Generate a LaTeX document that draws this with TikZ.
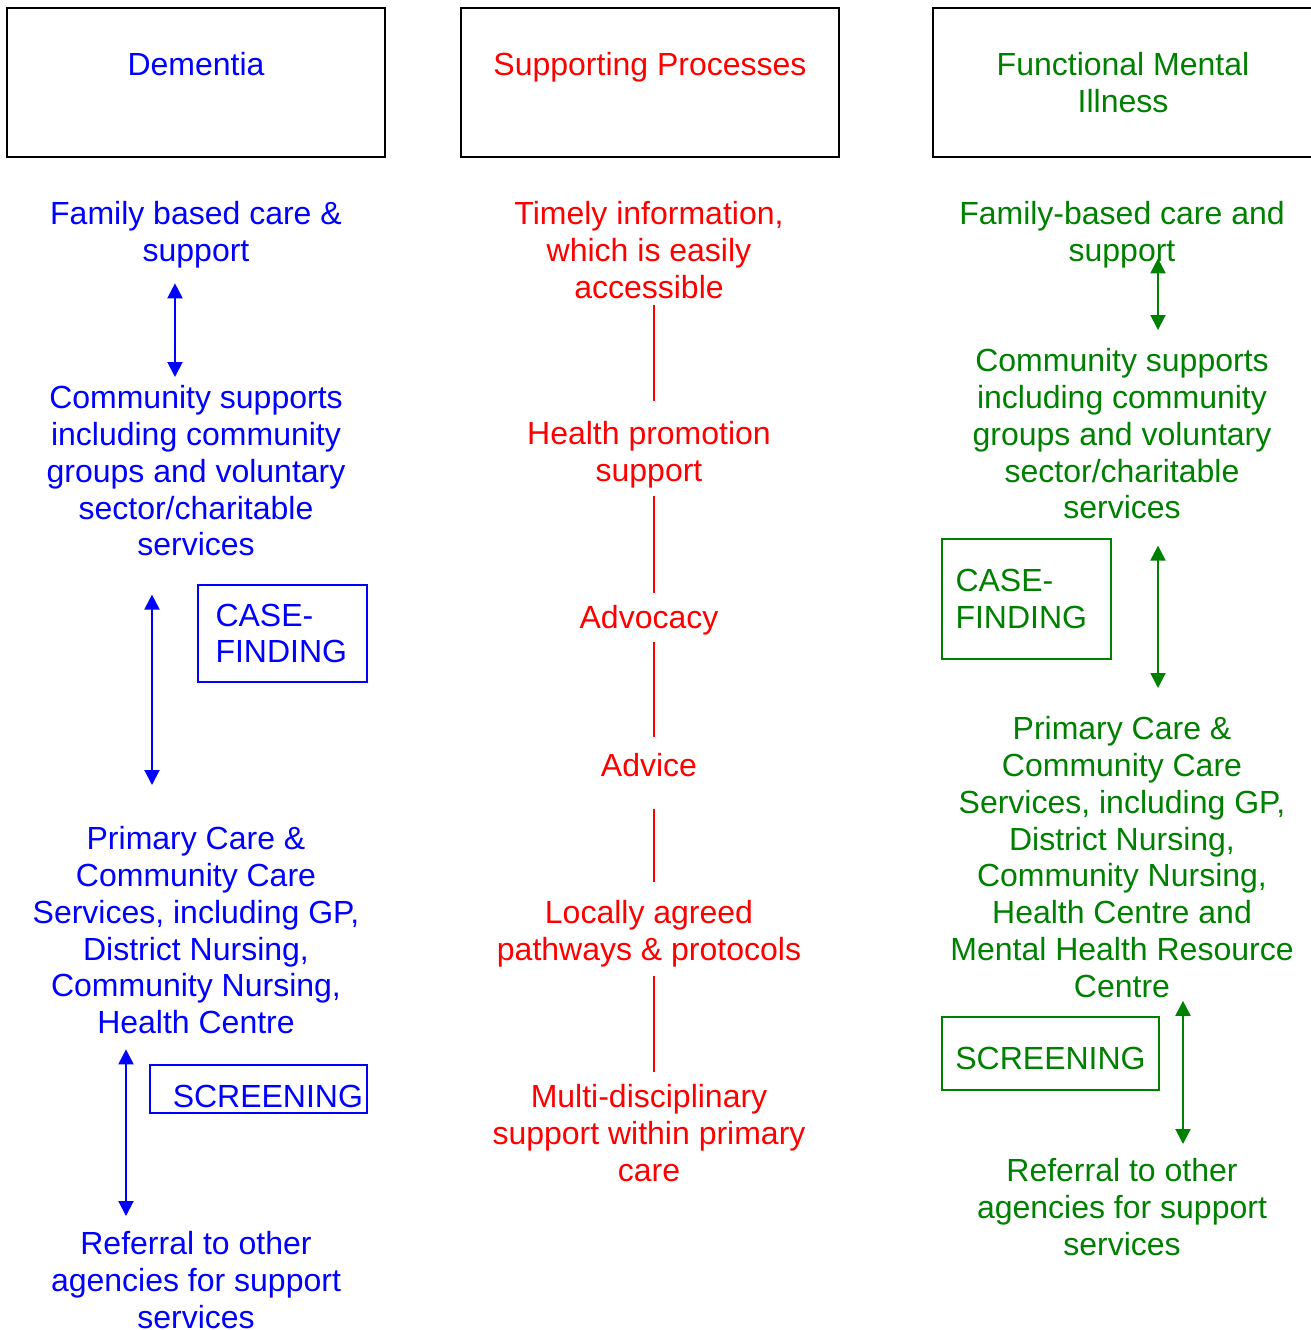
\documentclass[tikz,border=0pt]{standalone}
\usepackage{fontspec}
\setmainfont{Liberation Sans}
\usetikzlibrary{arrows.meta}
\definecolor{dblue}{RGB}{0,0,255}
\definecolor{dred}{RGB}{255,0,0}
\definecolor{dgreen}{RGB}{0,128,0}
% line strut: every text line gets the same height and depth
\newcommand\lstr{\vrule height 23pt depth 7pt width 0pt}
\newcommand\nl{\\\lstr}

\begin{document}
\begin{tikzpicture}[x=1pt,y=-1pt,
  every node/.style={font=\fontsize{32}{36.75}\selectfont, inner sep=0pt},
  head/.style={draw=black, line width=2pt, minimum width=378pt, minimum height=149pt},
  item/.style={anchor=north, align=center},
  tag/.style={draw=#1, text=#1, line width=2pt},
  link/.style={dred, line width=2pt},
  twoway/.style={line width=2pt, {Triangle[width=15pt,length=15pt]}-{Triangle[width=15pt,length=15pt]}},
]
\useasboundingbox (0,0) rectangle (1310,1330);

% column headings
\node[head, text=dblue, text height=23pt, text depth=37pt] (dem) at (196,82.5) {Dementia};
\node[head, text=dred, text height=23pt, text depth=37pt] (sup) at (650,82.5) {Supporting Processes};
\node[head, minimum width=380pt, text=dgreen, align=center] (fmi) at (1123,82.5) {Functional Mental\\Illness};

% dementia column
\begin{scope}[every node/.append style={text=dblue}]
\node[item] (L1) at (196,201.5) {\lstr Family based care \&\nl support};
\node[item] (L2) at (196,385.5) {\lstr Community supports\nl including community\nl groups and voluntary\nl sector/charitable\nl services};
\node[item] (L3) at (196,826.5) {\lstr Primary Care \&\nl Community Care\nl Services, including GP,\nl District Nursing,\nl Community Nursing,\nl Health Centre};
\node[item] (L4) at (196,1231.5) {\lstr Referral to other\nl agencies for support\nl services};
\end{scope}
\node[tag=dblue, text width=134pt, inner xsep=17.5pt, inner ysep=0pt, minimum height=97pt, align=left] (lcf) at (282.5,633.5) {CASE-\\FINDING};
\node[tag=dblue, text width=209pt, inner xsep=4pt, inner ysep=0pt, minimum height=48pt, align=right, text height=36pt, text depth=0pt] (lsc) at (258.5,1089) {SCREENING};

\draw[twoway, dblue, shorten <=14.5pt, shorten >=8.5pt] ([xshift=-21pt]L1.south) -- ([xshift=-21pt]L2.north);
\draw[twoway, dblue, shorten <=31.5pt, shorten >=41.5pt] ([xshift=-44pt]L2.south) -- ([xshift=-44pt]L3.north);
\draw[twoway, dblue, shorten <=8.5pt, shorten >=15.5pt] ([xshift=-70pt]L3.south) -- ([xshift=-70pt]L4.north);

% supporting processes column
\begin{scope}[every node/.append style={text=dred}]
\node[item] (M1) at (649,201.5) {\lstr Timely information,\nl which is easily\nl accessible};
\node[item] (M2) at (649,421.5) {\lstr Health promotion\nl support};
\node[item] (M3) at (649,605.5) {\lstr Advocacy};
\node[item] (M4) at (649,753.5) {\lstr Advice};
\node[item] (M5) at (649,900.5) {\lstr Locally agreed\nl pathways \& protocols};
\node[item] (M6) at (649,1084.5) {\lstr Multi-disciplinary\nl support within primary\nl care};
\end{scope}

\draw[link, shorten <=-0.5pt, shorten >=20.5pt] ([xshift=5pt]M1.south) -- ([xshift=5pt]M2.north);
\draw[link, shorten <=7.5pt, shorten >=12.5pt] ([xshift=5pt]M2.south) -- ([xshift=5pt]M3.north);
\draw[link, shorten <=5.5pt, shorten >=16.5pt] ([xshift=5pt]M3.south) -- ([xshift=5pt]M4.north);
\draw[link, shorten <=24.5pt, shorten >=18.5pt] ([xshift=5pt]M4.south) -- ([xshift=5pt]M5.north);
\draw[link, shorten <=8.5pt, shorten >=12.5pt] ([xshift=5pt]M5.south) -- ([xshift=5pt]M6.north);

% functional mental illness column
\begin{scope}[every node/.append style={text=dgreen}]
\node[item] (R1) at (1122,201.5) {\lstr Family-based care and\nl support};
\node[item] (R2) at (1122,348.5) {\lstr Community supports\nl including community\nl groups and voluntary\nl sector/charitable\nl services};
\node[item] (R3) at (1122,716.5) {\lstr Primary Care \&\nl Community Care\nl Services, including GP,\nl District Nursing,\nl Community Nursing,\nl Health Centre and\nl Mental Health Resource\nl Centre};
\node[item] (R4) at (1122,1158.5) {\lstr Referral to other\nl agencies for support\nl services};
\end{scope}
\node[tag=dgreen, text width=142pt, inner xsep=13.5pt, inner ysep=0pt, minimum height=120pt, align=left] (rcf) at (1026.5,599) {CASE-\\FINDING};
\node[tag=dgreen, minimum width=217pt, minimum height=73pt, text height=32pt, text depth=0pt] (rsc) at (1050.5,1053.5) {SCREENING};

\draw[twoway, dgreen, shorten <=-10.5pt, shorten >=18.5pt] ([xshift=36pt]R1.south) -- ([xshift=36pt]R2.north);
\draw[twoway, dgreen, shorten <=19.5pt, shorten >=28.5pt] ([xshift=36pt]R2.south) -- ([xshift=36pt]R3.north);
\draw[twoway, dgreen, shorten <=-3.5pt, shorten >=14.5pt] ([xshift=61pt]R3.south) -- ([xshift=61pt]R4.north);
\end{tikzpicture}
\end{document}
